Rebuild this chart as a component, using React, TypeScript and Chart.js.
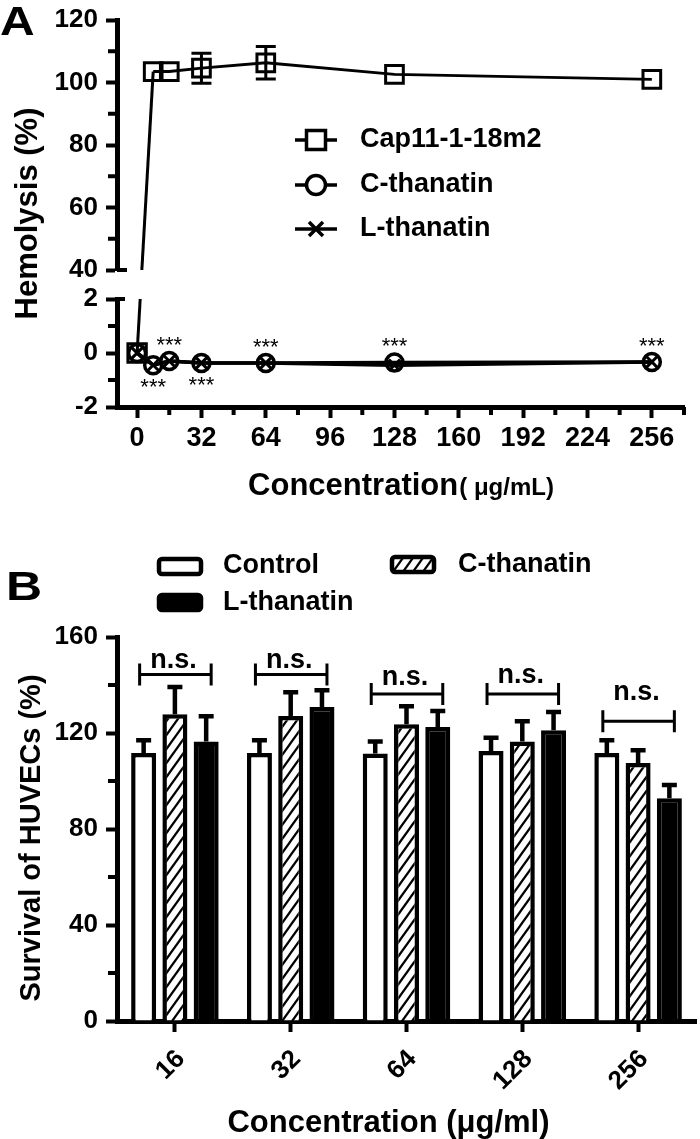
import React, { useEffect, useRef } from 'react';
import { Chart, registerables } from 'chart.js';

Chart.register(...registerables);

const FONT = '"Liberation Sans", Arial, Helvetica, sans-serif';
const font = (size: number, weight = 'bold') => `${weight} ${size}px ${FONT}`;

// ---------------- Panel A data (hemolysis) ----------------
const concentrationsA = [0, 8, 16, 32, 64, 128, 256];
const capHemolysis = [0, 103.5, 103.5, 104.6, 106.3, 102.6, 101.0];
const capHemolysisErr = [0, 0, 0, 4.8, 5.2, 0, 0];
const cThanatinHemolysis = [0, -0.45, -0.3, -0.37, -0.37, -0.35, -0.33];
const lThanatinHemolysis = [0, -0.45, -0.3, -0.37, -0.37, -0.45, -0.33];
const starsAboveAt = [16, 64, 128, 256];
const starsBelowAt = [8, 32];
const xTicksA = [0, 32, 64, 96, 128, 160, 192, 224, 256];
const xMinorTicksA = [16, 48, 80, 112, 144, 176, 208, 240, 272];
const yTicksUpper = [40, 60, 80, 100, 120];
const yMinorUpper = [50, 70, 90, 110];
const yTicksLower = [-2, 0, 2];
const yMinorLower = [-1, 1];
const BREAK_AT = 40;
const legendLabelsA = ['Cap11-1-18m2', 'C-thanatin', 'L-thanatin'];

// ---------------- Panel B data (HUVEC survival) ----------------
const concentrationsB = ['16', '32', '64', '128', '256'];
const controlSurvival = [111.7, 111.7, 111.5, 112.5, 111.7];
const controlSurvivalErr = [5.3, 5.3, 5.0, 5.5, 5.3];
const cThanatinSurvival = [127.8, 127.1, 123.6, 116.5, 107.5];
const cThanatinSurvivalErr = [11.4, 9.9, 7.5, 8.4, 5.3];
const lThanatinSurvival = [116.5, 130.8, 122.5, 121.1, 92.8];
const lThanatinSurvivalErr = [10.5, 7.0, 6.7, 7.7, 5.5];
const bracketLevels = [144.4, 144.4, 136.2, 136.2, 124.9];
const nsLabelLevels = [146.9, 146.9, 139.9, 140.7, 133.6];
const yTicksB = [0, 40, 80, 120, 160];
const yMinorB = [20, 60, 100, 140];

function makeHatch(): CanvasPattern | string {
  const w = 10, h = 14;
  const c = document.createElement('canvas');
  c.width = w; c.height = h;
  const g = c.getContext('2d');
  if (!g) return '#fff';
  g.fillStyle = '#fff';
  g.fillRect(0, 0, w, h);
  g.strokeStyle = '#000';
  g.lineWidth = 2.2;
  for (const k of [0, 1, 2]) {
    g.beginPath();
    g.moveTo(-w, h * (k + 1));
    g.lineTo(2 * w, h * (k - 2));
    g.stroke();
  }
  const p = g.createPattern(c, 'repeat');
  return p || '#fff';
}

function drawMinorTicks(ctx: CanvasRenderingContext2D, scale: any, values: number[], len: number, horizontal: boolean) {
  ctx.save();
  ctx.strokeStyle = '#000';
  ctx.lineWidth = 4;
  values.forEach((v) => {
    const p = scale.getPixelForValue(v);
    ctx.beginPath();
    if (horizontal) {
      ctx.moveTo(p, scale.top);
      ctx.lineTo(p, scale.top + len);
    } else {
      ctx.moveTo(scale.right, p);
      ctx.lineTo(scale.right - len, p);
    }
    ctx.stroke();
  });
  ctx.restore();
}

function drawMarker(ctx: CanvasRenderingContext2D, style: string, x: number, y: number) {
  ctx.beginPath();
  if (style === 'rect') {
    ctx.rect(x - 9.5, y - 9.5, 19, 19);
    ctx.fill();
    ctx.stroke();
  } else if (style === 'circle') {
    ctx.arc(x, y, 9.5, 0, Math.PI * 2);
    ctx.fill();
    ctx.stroke();
  } else {
    ctx.moveTo(x - 7, y - 7); ctx.lineTo(x + 7, y + 7);
    ctx.moveTo(x + 7, y - 7); ctx.lineTo(x - 7, y + 7);
    ctx.stroke();
  }
}

const axisFont = (size: number) => ({ family: FONT, size, weight: 'bold' as const });

function configA(): any {
  const capPoints = concentrationsA.map((x, i) => ({ x, y: capHemolysis[i] }));
  const capUpper = capPoints.filter((p) => p.y >= BREAK_AT);
  const capLower = capPoints.filter((p) => p.y < BREAK_AT);
  const pointCommon = {
    borderColor: '#000', borderWidth: 3, pointBorderColor: '#000', pointBorderWidth: 3,
    pointBackgroundColor: 'rgba(0,0,0,0)', tension: 0, fill: false,
  };
  const markerStyles = ['rect', 'circle', 'crossRot'];

  const plugin = {
    id: 'panelA',
    beforeDatasetsDraw(chart: any) {
      const ctx = chart.ctx as CanvasRenderingContext2D;
      const { yTop, yBot, x } = chart.scales;
      const area = chart.chartArea;
      const pLow = chart.getDatasetMeta(1).data[capLower.length - 1];
      const pUp = chart.getDatasetMeta(0).data[0];
      if (pLow && pUp) {
        ctx.save();
        ctx.beginPath();
        ctx.rect(area.left, yTop.top, area.right - area.left, yTop.bottom - yTop.top);
        ctx.rect(area.left, yBot.top, area.right - area.left, yBot.bottom - yBot.top);
        ctx.clip();
        ctx.strokeStyle = '#000';
        ctx.lineWidth = 3;
        ctx.beginPath();
        ctx.moveTo(pLow.x, pLow.y);
        ctx.lineTo(pUp.x, pUp.y);
        ctx.stroke();
        ctx.restore();
      }
      ctx.save();
      ctx.strokeStyle = '#000';
      ctx.lineWidth = 3;
      concentrationsA.forEach((c, i) => {
        const e = capHemolysisErr[i];
        if (!e || capHemolysis[i] < BREAK_AT) return;
        const px = x.getPixelForValue(c);
        const y1 = yTop.getPixelForValue(capHemolysis[i] + e);
        const y2 = yTop.getPixelForValue(capHemolysis[i] - e);
        ctx.beginPath();
        ctx.moveTo(px, y1); ctx.lineTo(px, y2);
        ctx.moveTo(px - 10, y1); ctx.lineTo(px + 10, y1);
        ctx.moveTo(px - 10, y2); ctx.lineTo(px + 10, y2);
        ctx.stroke();
      });
      ctx.restore();
    },
    afterDraw(chart: any) {
      const ctx = chart.ctx as CanvasRenderingContext2D;
      const { yTop, yBot, x } = chart.scales;
      const area = chart.chartArea;
      drawMinorTicks(ctx, yTop, yMinorUpper, 9, false);
      drawMinorTicks(ctx, yBot, yMinorLower, 9, false);
      drawMinorTicks(ctx, x, xMinorTicksA, 8, true);
      ctx.save();
      ctx.strokeStyle = '#000';
      ctx.lineWidth = 4;
      ctx.beginPath();
      const yb1 = yTop.getPixelForValue(yTicksUpper[0]);
      ctx.moveTo(yTop.right, yb1); ctx.lineTo(yTop.right + 10, yb1);
      const yb2 = yBot.getPixelForValue(yTicksLower[yTicksLower.length - 1]);
      ctx.moveTo(yBot.right, yb2); ctx.lineTo(yBot.right + 8, yb2);
      ctx.stroke();
      ctx.restore();

      ctx.save();
      ctx.fillStyle = '#000';
      ctx.font = font(22, 'normal');
      ctx.textAlign = 'center';
      ctx.textBaseline = 'alphabetic';
      starsAboveAt.forEach((c) => {
        const i = concentrationsA.indexOf(c);
        const v = Math.max(cThanatinHemolysis[i], lThanatinHemolysis[i]);
        ctx.fillText('***', x.getPixelForValue(c), yBot.getPixelForValue(v) - 9);
      });
      starsBelowAt.forEach((c) => {
        const i = concentrationsA.indexOf(c);
        const v = Math.min(cThanatinHemolysis[i], lThanatinHemolysis[i]);
        ctx.fillText('***', x.getPixelForValue(c), yBot.getPixelForValue(v) + 29);
      });
      ctx.restore();

      ctx.save();
      const legX1 = area.left + 178, legX2 = area.left + 220, legMid = area.left + 199;
      const legTextX = area.left + 243;
      const rowY = [area.top + 120, area.top + 165, area.top + 209];
      legendLabelsA.forEach((label, i) => {
        ctx.strokeStyle = '#000';
        ctx.fillStyle = '#fff';
        ctx.lineWidth = 3.5;
        ctx.beginPath();
        ctx.moveTo(legX1, rowY[i]); ctx.lineTo(legX2, rowY[i]);
        ctx.stroke();
        drawMarker(ctx, markerStyles[i], legMid, rowY[i]);
        ctx.fillStyle = '#000';
        ctx.font = font(27);
        ctx.textAlign = 'left';
        ctx.textBaseline = 'middle';
        ctx.fillText(label, legTextX, rowY[i]);
      });
      ctx.restore();

      ctx.save();
      ctx.fillStyle = '#000';
      ctx.translate(28, (area.top + area.bottom) / 2);
      ctx.rotate(-Math.PI / 2);
      ctx.font = font(31);
      ctx.textAlign = 'center';
      ctx.textBaseline = 'middle';
      ctx.fillText('Hemolysis (%)', 0, 0);
      ctx.restore();

      ctx.save();
      ctx.fillStyle = '#000';
      ctx.textBaseline = 'alphabetic';
      ctx.textAlign = 'left';
      ctx.font = font(31);
      const main = 'Concentration';
      const unit = '( μg/mL)';
      const w1 = ctx.measureText(main).width;
      ctx.font = font(24);
      const w2 = ctx.measureText(unit).width;
      const startX = (area.left + area.right) / 2 - (w1 + w2) / 2;
      ctx.font = font(31);
      ctx.fillText(main, startX, 495);
      ctx.font = font(24);
      ctx.fillText(unit, startX + w1 + 1, 495);
      ctx.restore();

      ctx.save();
      ctx.fillStyle = '#000';
      ctx.font = font(40);
      ctx.textAlign = 'left';
      ctx.textBaseline = 'alphabetic';
      ctx.translate(0, 35);
      ctx.scale(1.2, 1);
      ctx.fillText('A', 0, 0);
      ctx.restore();
    },
  };

  const yCommon = {
    type: 'linear',
    position: 'left',
    stack: 'hemo',
    grid: { display: true, drawOnChartArea: false, drawTicks: true, tickLength: 11, tickWidth: 4, tickColor: '#000' },
    border: { display: true, color: '#000', width: 5 },
    ticks: { color: '#000', font: axisFont(26), padding: 8 },
  };

  return {
    type: 'line',
    data: {
      datasets: [
        { ...pointCommon, label: legendLabelsA[0], data: capUpper, yAxisID: 'yTop', pointStyle: 'rect', pointRadius: 12.5 },
        { ...pointCommon, label: legendLabelsA[0] + ' (low)', data: capLower, yAxisID: 'yBot', pointStyle: 'rect', pointRadius: 13 },
        { ...pointCommon, borderWidth: 3.5, pointBorderWidth: 3.5, label: legendLabelsA[1], data: concentrationsA.map((x, i) => ({ x, y: cThanatinHemolysis[i] })), yAxisID: 'yBot', pointStyle: 'circle', pointRadius: 8.5 },
        { ...pointCommon, borderWidth: 3.5, label: legendLabelsA[2], data: concentrationsA.map((x, i) => ({ x, y: lThanatinHemolysis[i] })), yAxisID: 'yBot', pointStyle: 'crossRot', pointRadius: 8 },
      ],
    },
    options: {
      responsive: false,
      maintainAspectRatio: false,
      animation: false,
      events: [],
      layout: { padding: { left: 0, right: 5, top: 20, bottom: 0 } },
      plugins: { legend: { display: false }, tooltip: { enabled: false }, title: { display: false } },
      scales: {
        x: {
          type: 'linear',
          position: 'bottom',
          min: -10,
          max: 272,
          afterBuildTicks: (s: any) => { s.ticks = xTicksA.map((v) => ({ value: v })); },
          afterFit: (s: any) => { s.height = 113; s.paddingLeft = 0; s.paddingRight = 0; },
          grid: { display: true, drawOnChartArea: false, drawTicks: true, tickLength: 11, tickWidth: 4, tickColor: '#000' },
          border: { display: true, color: '#000', width: 5 },
          ticks: { color: '#000', font: axisFont(27), padding: 4, maxRotation: 0, minRotation: 0, autoSkip: false },
        },
        yTop: {
          ...yCommon,
          weight: 3,
          stackWeight: 250,
          min: 40,
          max: 120,
          afterBuildTicks: (s: any) => { s.ticks = yTicksUpper.map((v) => ({ value: v })); },
          afterFit: (s: any) => { s.width = 117; s.paddingTop = 0; s.paddingBottom = 0; },
        },
        yGap: {
          type: 'linear',
          position: 'left',
          stack: 'hemo',
          weight: 2,
          stackWeight: 29,
          min: 0,
          max: 1,
          grid: { display: false },
          ticks: { display: false },
          border: { display: false },
          afterFit: (s: any) => { s.width = 117; s.paddingTop = 0; s.paddingBottom = 0; },
        },
        yBot: {
          ...yCommon,
          weight: 1,
          stackWeight: 108,
          min: -2,
          max: 2,
          afterBuildTicks: (s: any) => { s.ticks = yTicksLower.map((v) => ({ value: v })); },
          afterFit: (s: any) => { s.width = 117; s.paddingTop = 0; s.paddingBottom = 0; },
        },
      },
    },
    plugins: [plugin],
  };
}

function configB(): any {
  const hatch = makeHatch();
  const values = [controlSurvival, cThanatinSurvival, lThanatinSurvival];
  const errors = [controlSurvivalErr, cThanatinSurvivalErr, lThanatinSurvivalErr];
  const fills: any[] = ['#fff', hatch, '#000'];
  const labels = ['Control', 'C-thanatin', 'L-thanatin'];

  const plugin = {
    id: 'panelB',
    afterDatasetsDraw(chart: any) {
      const ctx = chart.ctx as CanvasRenderingContext2D;
      const y = chart.scales.y;
      ctx.save();
      ctx.strokeStyle = '#000';
      ctx.lineWidth = 4.5;
      values.forEach((vals, di) => {
        const meta = chart.getDatasetMeta(di);
        meta.data.forEach((bar: any, i: number) => {
          const top = y.getPixelForValue(vals[i]);
          const ye = y.getPixelForValue(vals[i] + errors[di][i]);
          ctx.beginPath();
          ctx.moveTo(bar.x, top);
          ctx.lineTo(bar.x, ye);
          ctx.moveTo(bar.x - 7.5, ye);
          ctx.lineTo(bar.x + 7.5, ye);
          ctx.stroke();
        });
      });
      ctx.lineWidth = 3;
      const m0 = chart.getDatasetMeta(0);
      const m2 = chart.getDatasetMeta(2);
      concentrationsB.forEach((_, i) => {
        const left = m0.data[i].x - 4;
        const right = m2.data[i].x + 5;
        const by = y.getPixelForValue(bracketLevels[i]);
        ctx.beginPath();
        ctx.moveTo(left, by); ctx.lineTo(right, by);
        ctx.moveTo(left, by - 11); ctx.lineTo(left, by + 11);
        ctx.moveTo(right, by - 11); ctx.lineTo(right, by + 11);
        ctx.stroke();
        ctx.fillStyle = '#000';
        ctx.font = font(27);
        ctx.textAlign = 'center';
        ctx.textBaseline = 'alphabetic';
        ctx.fillText('n.s.', (left + right) / 2 - 2, y.getPixelForValue(nsLabelLevels[i]));
      });
      ctx.restore();
    },
    afterDraw(chart: any) {
      const ctx = chart.ctx as CanvasRenderingContext2D;
      const y = chart.scales.y;
      const area = chart.chartArea;
      drawMinorTicks(ctx, y, yMinorB, 9, false);

      const boxes = [
        { x: 159, y: 39, text: 223, ty: 46 },
        { x: 392, y: 37, text: 458, ty: 45 },
        { x: 159, y: 75, text: 223, ty: 83 },
      ];
      ctx.save();
      boxes.forEach((b, i) => {
        ctx.beginPath();
        (ctx as any).roundRect(b.x, b.y, 42, 15, 3);
        ctx.fillStyle = fills[i];
        ctx.fill();
        ctx.strokeStyle = '#000';
        ctx.lineWidth = 4.5;
        ctx.stroke();
        ctx.fillStyle = '#000';
        ctx.font = font(27);
        ctx.textAlign = 'left';
        ctx.textBaseline = 'middle';
        ctx.fillText(labels[i], b.text, b.ty);
      });
      ctx.restore();

      ctx.save();
      ctx.fillStyle = '#000';
      ctx.translate(32, (area.top + area.bottom) / 2 + 9);
      ctx.rotate(-Math.PI / 2);
      ctx.font = font(29);
      ctx.textAlign = 'center';
      ctx.textBaseline = 'middle';
      ctx.fillText('Survival of HUVECs (%)', 0, 0);
      ctx.restore();

      ctx.save();
      ctx.fillStyle = '#000';
      ctx.font = font(31);
      ctx.textAlign = 'center';
      ctx.textBaseline = 'alphabetic';
      ctx.fillText('Concentration (μg/ml)', (area.left + area.right) / 2 - 18, 612);
      ctx.restore();

      ctx.save();
      ctx.fillStyle = '#000';
      ctx.font = font(40);
      ctx.textAlign = 'left';
      ctx.textBaseline = 'alphabetic';
      ctx.translate(6, 80);
      ctx.scale(1.25, 1);
      ctx.fillText('B', 0, 0);
      ctx.restore();
    },
  };

  return {
    type: 'bar',
    data: {
      labels: concentrationsB,
      datasets: values.map((vals, i) => ({
        label: labels[i],
        data: vals,
        backgroundColor: fills[i],
        borderColor: '#000',
        borderWidth: 4.5,
        categoryPercentage: 0.81,
        barPercentage: 0.8,
      })),
    },
    options: {
      responsive: false,
      maintainAspectRatio: false,
      animation: false,
      events: [],
      layout: { padding: { left: 0, right: 4, top: 117, bottom: 0 } },
      plugins: { legend: { display: false }, tooltip: { enabled: false }, title: { display: false } },
      scales: {
        x: {
          type: 'category',
          offset: true,
          afterFit: (s: any) => { s.height = 118; s.paddingLeft = 0; s.paddingRight = 0; },
          grid: { display: true, offset: false, drawOnChartArea: false, drawTicks: true, tickLength: 11, tickWidth: 4, tickColor: '#000' },
          border: { display: true, color: '#000', width: 5 },
          ticks: { color: '#000', font: axisFont(26), padding: 12, labelOffset: 6, minRotation: 45, maxRotation: 45, autoSkip: false },
        },
        y: {
          type: 'linear',
          position: 'left',
          min: 0,
          max: 160,
          afterBuildTicks: (s: any) => { s.ticks = yTicksB.map((v) => ({ value: v })); },
          afterFit: (s: any) => { s.width = 117; s.paddingTop = 0; s.paddingBottom = 0; },
          grid: { display: true, drawOnChartArea: false, drawTicks: true, tickLength: 11, tickWidth: 4, tickColor: '#000' },
          border: { display: true, color: '#000', width: 5 },
          ticks: { color: '#000', font: axisFont(26), padding: 8 },
        },
      },
    },
    plugins: [plugin],
  };
}

export default function App() {
  const refA = useRef<HTMLCanvasElement>(null);
  const refB = useRef<HTMLCanvasElement>(null);
  useEffect(() => {
    if (!refA.current || !refB.current) return;
    const chartA = new Chart(refA.current, configA());
    const chartB = new Chart(refB.current, configB());
    return () => {
      chartA.destroy();
      chartB.destroy();
    };
  }, []);
  return (
    <div style={{ position: 'absolute', left: 0, top: 0, width: 700, height: 1139, background: '#fff' }}>
      <canvas ref={refA} width={700} height={520} style={{ position: 'absolute', left: 0, top: 0, width: 700, height: 520 }} />
      <canvas ref={refB} width={700} height={619} style={{ position: 'absolute', left: 0, top: 520, width: 700, height: 619 }} />
    </div>
  );
}
